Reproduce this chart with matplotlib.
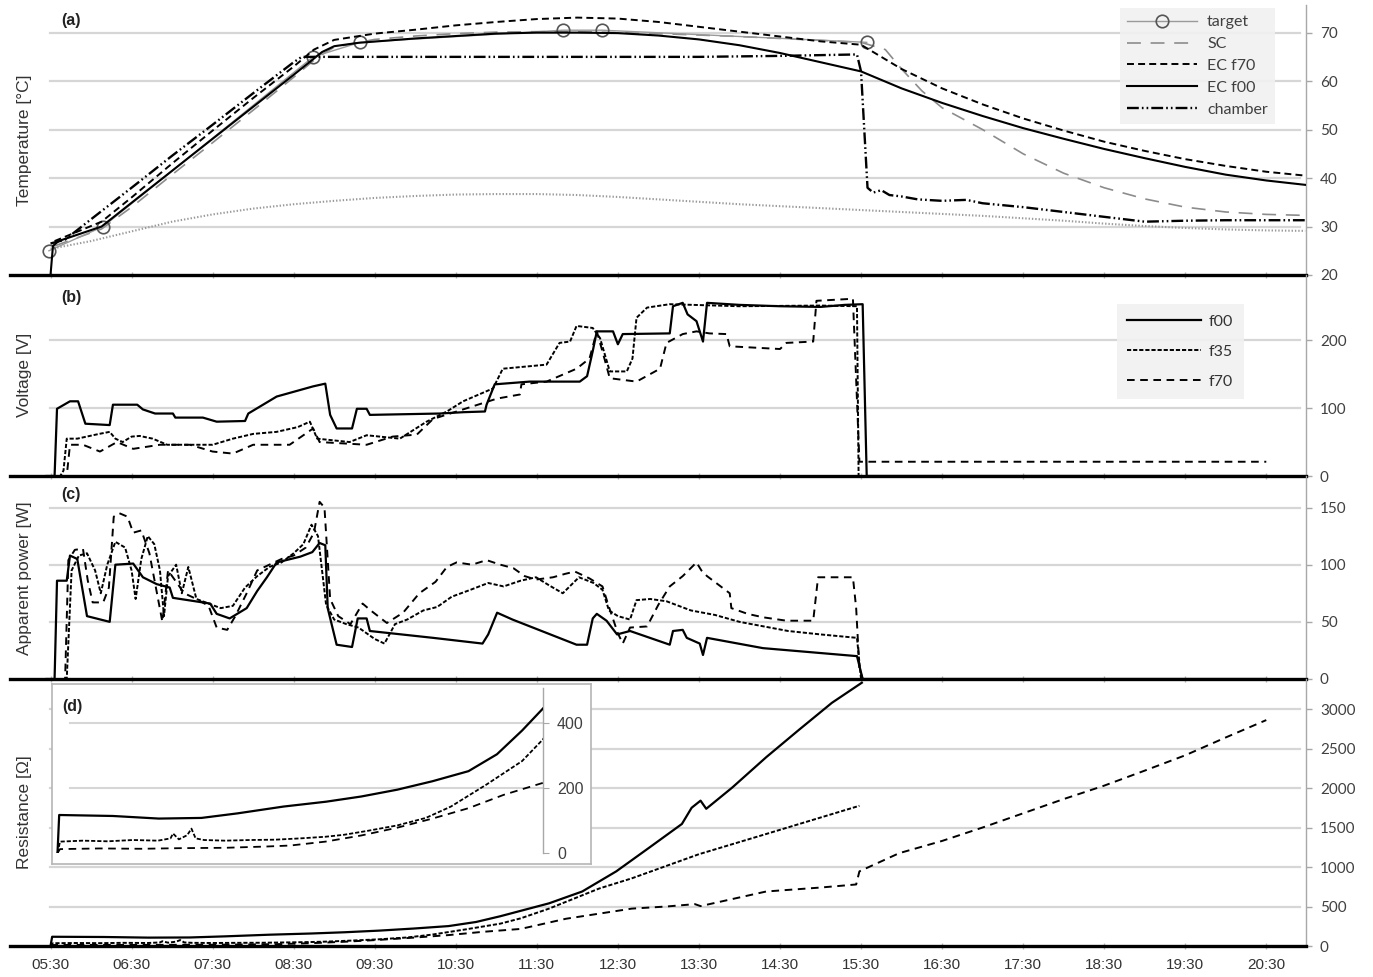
import matplotlib
matplotlib.use("Agg")
import matplotlib.pyplot as plt

plt.rcParams['font.family'] = ['Liberation Sans', 'DejaVu Sans']
plt.rcParams['lines.scale_dashes'] = False

# ---------------- data ----------------
hour_ticks = [5.5, 6.5, 7.5, 8.5, 9.5, 10.5, 11.5, 12.5, 13.5, 14.5, 15.5,
              16.5, 17.5, 18.5, 19.5, 20.5]
hour_labels = ["05:30", "06:30", "07:30", "08:30", "09:30", "10:30", "11:30",
               "12:30", "13:30", "14:30", "15:30", "16:30", "17:30", "18:30",
               "19:30", "20:30"]

# (a) temperatures [°C]
t_target = [5.48, 6.15, 8.74, 9.32, 11.82, 12.31, 15.57]
temp_target = [25, 30, 65, 68, 70.5, 70.5, 68]

t_ambient = [5.5, 6.0, 6.5, 7.0, 7.5, 8.0, 8.5, 9.0, 9.5, 10.0, 10.5, 11.0,
             11.5, 12.0, 12.5, 13.0, 13.5, 14.0, 14.5, 15.0, 15.5, 16.0, 16.5,
             17.0, 17.5, 18.0, 18.5, 19.0, 19.5, 20.0, 20.5, 20.98]
temp_ambient = [25.4, 27.0, 29.0, 31.0, 32.5, 33.7, 34.6, 35.3, 35.9, 36.3,
                36.6, 36.7, 36.7, 36.5, 36.1, 35.6, 35.1, 34.6, 34.2, 33.8,
                33.4, 33.0, 32.6, 32.2, 31.7, 31.2, 30.6, 30.1, 29.7, 29.4,
                29.2, 29.1]

t_sc = [5.55, 6.13, 6.50, 7.00, 7.50, 8.00, 8.50, 8.80, 9.00, 9.50, 10.0,
        10.5, 11.0, 11.5, 12.0, 12.5, 13.0, 13.5, 14.0, 14.5, 15.0, 15.5,
        15.8, 16.0, 16.25, 16.5, 17.0, 17.5, 18.0, 18.5, 19.0, 19.5, 20.0,
        20.5, 20.98]
temp_sc = [26, 29.5, 34, 40.7, 47.3, 54, 60.8, 65, 67, 68.6, 69.3, 69.8,
           70.1, 70.2, 70.2, 70.0, 69.8, 69.5, 69.2, 68.8, 68.4, 68.0, 66.5,
           62.5, 58, 54.5, 50.0, 45.0, 41.0, 38.0, 35.7, 34.0, 33.0, 32.5,
           32.3]

t_ec70 = [5.55, 6.13, 6.50, 7.00, 7.50, 8.00, 8.50, 8.75, 9.00, 9.50, 10.0,
          10.5, 11.0, 11.5, 12.0, 12.5, 13.0, 13.5, 14.0, 14.5, 15.0, 15.5,
          16.0, 16.5, 17.0, 17.5, 18.0, 18.5, 19.0, 19.5, 20.0, 20.5, 20.98]
temp_ec70 = [27, 31, 36, 43, 49.8, 56.5, 63, 66.5, 68.5, 69.8, 70.6, 71.5,
             72.2, 72.8, 73.1, 72.9, 72.2, 71.2, 70.2, 69.2, 68.2, 67.5, 62.5,
             58.5, 55.2, 52.3, 49.8, 47.5, 45.6, 43.9, 42.5, 41.3, 40.5]

t_ec00 = [5.50, 5.53, 5.60, 6.13, 6.50, 7.00, 7.50, 8.00, 8.50, 8.85, 9.00,
          9.30, 10.0, 10.5, 11.0, 11.5, 12.0, 12.5, 13.0, 13.5, 14.0, 14.5,
          15.0, 15.5, 16.0, 16.5, 17.0, 17.5, 18.0, 18.5, 19.0, 19.5, 20.0,
          20.5, 20.98]
temp_ec00 = [20, 26, 27, 30, 34.9, 41.5, 48.1, 54.7, 61.3, 66.0, 67.2, 67.9,
             68.8, 69.3, 69.8, 70.0, 70.0, 69.9, 69.4, 68.6, 67.4, 65.8, 63.9,
             62.0, 58.5, 55.5, 52.8, 50.3, 48.1, 46.0, 44.1, 42.3, 40.7, 39.5,
             38.6]

t_chamber = [5.50, 5.68, 6.00, 6.50, 7.00, 7.50, 8.00, 8.50, 8.60, 9.50,
             10.5, 11.5, 12.5, 13.5, 14.5, 15.45, 15.50, 15.58, 15.65, 15.75,
             15.85, 16.00, 16.20, 16.50, 16.80, 17.00, 17.50, 18.00, 18.50,
             19.00, 19.50, 20.00, 20.50, 20.98]
temp_chamber = [26.5, 27.3, 31.5, 38, 44.6, 51, 57.5, 63.9, 65, 65, 65, 65,
                65, 65, 65.2, 65.5, 62, 38, 37, 37.5, 36.5, 36.2, 35.6, 35.3,
                35.5, 34.8, 34.0, 33.0, 32.0, 31.0, 31.2, 31.3, 31.3, 31.3]

# (b) voltage [V]
t_v_f00 = [5.45, 5.55, 5.58, 5.74, 5.84, 5.93, 6.23, 6.27, 6.57, 6.64, 6.79,
           7.01, 7.04, 7.38, 7.55, 7.90, 7.94, 8.08, 8.29, 8.74, 8.89, 8.95,
           9.03, 9.22, 9.28, 9.40, 9.44, 10.3, 10.6, 10.86, 10.88, 10.98,
           11.41, 12.03, 12.12, 12.19, 12.24, 12.44, 12.50, 12.56, 13.14,
           13.18, 13.30, 13.36, 13.47, 13.55, 13.60, 14.0, 14.5, 15.0, 15.3,
           15.52, 15.57, 20.5]
v_f00 = [0, 0, 99, 110, 110, 77, 75, 105, 105, 98, 92, 92, 86, 86, 80, 81, 92,
         102, 117, 132, 136, 90, 70, 70, 99, 99, 90, 92, 94, 95, 105, 135, 139,
         139, 147, 184, 213, 213, 194, 209, 210, 250, 255, 238, 228, 198, 255,
         252, 250, 249, 252, 253, 0, 0]

t_v_f35 = [5.45, 5.62, 5.66, 5.70, 5.83, 6.10, 6.23, 6.30, 6.39, 6.50, 6.60,
           6.76, 6.94, 7.50, 7.75, 8.00, 8.29, 8.55, 8.70, 8.79, 9.19, 9.40,
           9.81, 10.14, 10.39, 10.59, 10.96, 11.08, 11.62, 11.78, 11.91, 11.99,
           12.19, 12.28, 12.40, 12.61, 12.68, 12.73, 12.86, 13.14, 14.0, 15.0,
           15.45, 15.47, 20.5]
v_f35 = [0, 0, 8, 55, 55, 62, 65, 55, 50, 58, 59, 55, 46, 46, 55, 62, 65, 72,
         80, 55, 50, 60, 55, 80, 95, 110, 129, 158, 164, 196, 198, 221, 218,
         203, 154, 154, 173, 233, 248, 253, 250, 251, 250, 0, 0]

t_v_f70 = [5.45, 5.70, 5.74, 5.90, 6.11, 6.32, 6.52, 6.85, 7.22, 7.50, 7.75,
           8.00, 8.45, 8.74, 8.82, 9.40, 9.72, 10.02, 10.22, 11.01, 11.29,
           11.31, 11.62, 11.99, 12.15, 12.24, 12.32, 12.40, 12.73, 13.02, 13.10,
           13.30, 13.47, 13.63, 13.84, 13.88, 14.50, 14.58, 14.91, 14.95, 15.40,
           15.48, 20.5]
v_f70 = [0, 0, 46, 46, 36, 50, 40, 46, 46, 36, 33, 46, 46, 70, 50, 46, 58, 61,
         84, 114, 120, 135, 139, 158, 173, 213, 179, 144, 139, 158, 196, 209,
         213, 210, 209, 191, 187, 196, 198, 258, 261, 21, 21]

# (c) apparent power [W]
t_p_f00 = [5.45, 5.55, 5.58, 5.70, 5.74, 5.83, 5.95, 6.23, 6.30, 6.52, 6.64,
           6.81, 6.97, 7.01, 7.47, 7.55, 7.71, 7.92, 8.05, 8.17, 8.29, 8.58,
           8.73, 8.82, 8.89, 8.92, 9.03, 9.22, 9.29, 9.40, 9.44, 10.22, 10.83,
           10.90, 11.01, 11.20, 11.99, 12.12, 12.19, 12.24, 12.36, 12.49,
           12.65, 13.14, 13.18, 13.30, 13.35, 13.51, 13.55, 13.60, 14.29,
           15.45, 15.52, 20.5]
p_f00 = [0, 0, 86, 86, 108, 105, 55, 50, 100, 101, 89, 83, 80, 71, 66, 57, 53,
         62, 77, 89, 102, 107, 111, 119, 117, 62, 30, 28, 53, 53, 42, 36, 31,
         39, 58, 52, 30, 30, 53, 57, 51, 39, 42, 30, 42, 43, 36, 31, 21, 36,
         27, 20, 0, 0]

t_p_f35 = [5.45, 5.70, 5.76, 5.85, 5.95, 6.05, 6.12, 6.20, 6.30, 6.42, 6.50,
           6.55, 6.62, 6.70, 6.78, 6.85, 6.90, 6.95, 7.05, 7.12, 7.20, 7.30,
           7.45, 7.60, 7.75, 7.90, 8.05, 8.20, 8.35, 8.50, 8.62, 8.72, 8.80,
           8.90, 9.00, 9.15, 9.30, 9.50, 9.62, 9.75, 9.90, 10.10, 10.27, 10.45,
           10.68, 10.90, 11.09, 11.30, 11.49, 11.65, 11.82, 12.02, 12.20,
           12.31, 12.39, 12.50, 12.65, 12.73, 12.90, 13.10, 13.40, 13.70,
           14.00, 14.30, 14.60, 15.00, 15.30, 15.45, 15.50, 20.5]
p_f35 = [0, 0, 95, 108, 110, 95, 75, 100, 120, 115, 95, 70, 105, 125, 118, 95,
         55, 90, 100, 75, 98, 70, 66, 62, 64, 80, 90, 98, 102, 110, 118, 135,
         125, 65, 52, 48, 45, 35, 31, 48, 52, 60, 63, 72, 78, 84, 81, 86, 89,
         82, 75, 89, 84, 78, 60, 55, 52, 69, 70, 68, 60, 56, 50, 46, 42, 39,
         37, 36, 0, 0]

t_p_f70 = [5.45, 5.68, 5.72, 5.80, 5.90, 5.96, 6.02, 6.15, 6.22, 6.28, 6.35,
           6.45, 6.52, 6.62, 6.72, 6.80, 6.88, 6.95, 7.05, 7.15, 7.30, 7.45,
           7.55, 7.68, 7.78, 7.92, 8.05, 8.20, 8.35, 8.50, 8.65, 8.75, 8.82,
           8.88, 8.95, 9.05, 9.20, 9.35, 9.45, 9.65, 9.85, 10.05, 10.25, 10.39,
           10.51, 10.70, 10.88, 11.05, 11.21, 11.35, 11.49, 11.70, 11.85,
           11.97, 12.15, 12.31, 12.39, 12.50, 12.56, 12.65, 12.86, 13.00,
           13.14, 13.30, 13.47, 13.53, 13.60, 13.75, 13.88, 13.90, 14.10,
           14.29, 14.58, 14.91, 14.97, 15.40, 15.44, 15.48, 15.52, 20.5]
p_f70 = [0, 0, 104, 113, 114, 86, 67, 67, 80, 142, 145, 142, 128, 130, 110,
         80, 50, 95, 85, 75, 70, 64, 45, 43, 55, 75, 95, 100, 105, 108, 115,
         128, 155, 150, 70, 55, 48, 66, 60, 49, 58, 75, 85, 98, 102, 100, 104,
         100, 97, 90, 87, 89, 92, 94, 88, 81, 63, 40, 31, 45, 46, 65, 81, 90,
         102, 95, 90, 82, 75, 62, 57, 54, 51, 51, 89, 89, 62, 9, 0, 0]

# (d) resistance [Ohm]
t_r_f00 = [5.50, 5.52, 6.16, 6.71, 7.22, 7.65, 8.20, 8.71, 9.13, 9.56, 9.98,
           10.41, 10.75, 11.05, 11.30, 11.65, 12.06, 12.48, 12.88, 13.29,
           13.41, 13.52, 13.59, 13.91, 14.33, 14.73, 15.14, 15.51]
r_f00 = [0, 117, 114, 106, 108, 122, 143, 158, 174, 195, 221, 252, 304, 377,
         445, 540, 690, 945, 1240, 1545, 1750, 1840, 1737, 2005, 2390, 2733,
         3078, 3333]

t_r_f35 = [5.50, 5.53, 5.80, 6.10, 6.40, 6.70, 6.85, 6.88, 6.95, 7.05, 7.10,
           7.15, 7.25, 7.50, 7.80, 8.10, 8.40, 8.70, 8.92, 9.20, 9.56, 9.90,
           10.20, 10.62, 11.05, 11.30, 11.65, 12.27, 12.67, 13.50, 14.33, 15.48]
r_f35 = [0, 35, 38, 36, 40, 38, 45, 60, 42, 55, 75, 45, 40, 38, 40, 41, 45, 50,
         56, 68, 85, 108, 143, 210, 283, 350, 473, 728, 856, 1162, 1418, 1775]

t_r_f70 = [5.50, 5.53, 6.00, 6.50, 7.00, 7.50, 8.00, 8.28, 8.70, 9.13, 9.56,
           9.98, 10.41, 10.83, 11.30, 11.86, 12.67, 13.10, 13.45, 13.52, 14.33,
           15.00, 15.44, 15.48, 15.97, 16.50, 17.00, 17.50, 18.00, 18.50,
           19.00, 19.50, 20.00, 20.50]
r_f70 = [0, 12, 14, 13, 15, 16, 20, 23, 35, 54, 78, 106, 138, 179, 216, 345,
         473, 500, 530, 505, 690, 740, 779, 945, 1175, 1330, 1500, 1680, 1860,
         2030, 2220, 2414, 2640, 2860]

# ---------------- layout ----------------
W, H = 1373, 977
fig = plt.figure(figsize=(W / 100, H / 100), dpi=100)
fig.patch.set_facecolor('white')


def rect(x0, y0, x1, y1):
    return [x0 / W, 1 - y1 / H, (x1 - x0) / W, (y1 - y0) / H]


GRID = '#d6d6d6'
AXIS_GRAY = '#a8a8a8'
TXT = '#333333'
LEGEND_FONT = {'family': ['Lato', 'DejaVu Sans'], 'size': 11.5}

DASH_F35 = (0, (3.0, 1.4))
DASH_F70 = (0, (5.5, 4.0))


def style_panel(ax, ylim, yticks):
    ax.set_xlim(5.0, 20.99)
    ax.set_ylim(*ylim)
    ax.patch.set_alpha(0)
    ax.spines['top'].set_visible(False)
    ax.spines['left'].set_visible(False)
    ax.spines['right'].set_color(AXIS_GRAY)
    ax.spines['right'].set_linewidth(1.0)
    ax.spines['bottom'].set_color('black')
    ax.spines['bottom'].set_linewidth(2.4)
    ax.yaxis.tick_right()
    ax.set_yticks(yticks)
    ax.tick_params(axis='y', direction='out', length=4, width=1,
                   color=AXIS_GRAY, labelsize=11, labelcolor='#404040', pad=6)
    for lbl in ax.get_yticklabels():
        lbl.set_fontfamily(['Lato', 'DejaVu Sans'])
    ax.set_xticks(hour_ticks)
    ax.tick_params(axis='x', direction='inout', length=5, width=1,
                   color='#b8b8b8', labelbottom=False)
    for g in yticks[1:]:
        ax.axhline(g, xmin=0.031, xmax=0.995, color=GRID, lw=1.6, zorder=0)


ax_a = fig.add_axes(rect(10, 5, 1306, 275))
ax_b = fig.add_axes(rect(10, 275, 1306, 476))
ax_c = fig.add_axes(rect(10, 476, 1306, 679))
ax_d = fig.add_axes(rect(10, 679, 1306, 946))

style_panel(ax_a, (20, 75.7), [20, 30, 40, 50, 60, 70])
style_panel(ax_b, (0, 296), [0, 100, 200])
style_panel(ax_c, (0, 177.6), [0, 50, 100, 150])
style_panel(ax_d, (0, 3380), [0, 500, 1000, 1500, 2000, 2500, 3000])

ax_d.tick_params(axis='x', labelbottom=True, labelsize=11, labelcolor=TXT,
                 pad=6)
ax_d.set_xticklabels(hour_labels)

# ---------------- (a) temperature ----------------
ax_a.plot(t_ambient, temp_ambient, color='#9a9a9a', lw=1.5,
          linestyle=(0, (1.0, 1.4)), zorder=2)
l_sc, = ax_a.plot(t_sc, temp_sc, color='#8c8c8c', lw=1.2,
                  linestyle=(0, (10, 7)), label='SC', zorder=3)
l_tg, = ax_a.plot(t_target, temp_target, color='#9a9a9a', lw=1.0,
                  marker='o', markersize=9, markerfacecolor='none',
                  markeredgecolor='#555555', markeredgewidth=1.2,
                  label='target', zorder=4)
l_ch, = ax_a.plot(t_chamber, temp_chamber, color='black', lw=1.7,
                  linestyle=(0, (8.5, 2.2, 1.2, 2.2, 1.2, 2.2)),
                  label='chamber', zorder=4)
l_e70, = ax_a.plot(t_ec70, temp_ec70, color='black', lw=1.4,
                   linestyle=(0, (5, 3)), label='EC f70', zorder=5)
l_e00, = ax_a.plot(t_ec00, temp_ec00, color='black', lw=1.5,
                   label='EC f00', zorder=6)

leg_a = ax_a.legend([l_tg, l_sc, l_e70, l_e00, l_ch],
                    ['target', 'SC', 'EC f70', 'EC f00', 'chamber'],
                    loc='upper left', bbox_to_anchor=(1120 / W, 1 - 8 / H),
                    bbox_transform=fig.transFigure, numpoints=1,
                    handlelength=4.4, handletextpad=0.6, labelspacing=0.48,
                    borderpad=0.45, borderaxespad=0, frameon=True,
                    fancybox=False, facecolor='#f1f1f1', edgecolor='none',
                    framealpha=0.9, prop=LEGEND_FONT)
for txt in leg_a.get_texts():
    txt.set_color('#404040')

# ---------------- (b) voltage ----------------
l_vf00, = ax_b.plot(t_v_f00, v_f00, color='black', lw=1.6, label='f00',
                    zorder=5)
l_vf35, = ax_b.plot(t_v_f35, v_f35, color='black', lw=1.4,
                    linestyle=DASH_F35, label='f35', zorder=4)
l_vf70, = ax_b.plot(t_v_f70, v_f70, color='black', lw=1.4,
                    linestyle=DASH_F70, label='f70', zorder=4)
leg_b = ax_b.legend(loc='upper left', bbox_to_anchor=(1117 / W, 1 - 304 / H),
                    bbox_transform=fig.transFigure, handlelength=4.6,
                    handletextpad=0.5, labelspacing=1.0, borderpad=0.65,
                    borderaxespad=0, frameon=True, fancybox=False,
                    facecolor='#f1f1f1', edgecolor='none', framealpha=0.9,
                    prop=LEGEND_FONT)
for txt in leg_b.get_texts():
    txt.set_color('#333333')

# ---------------- (c) apparent power ----------------
ax_c.plot(t_p_f00, p_f00, color='black', lw=1.6, zorder=5)
ax_c.plot(t_p_f35, p_f35, color='black', lw=1.4, linestyle=DASH_F35, zorder=4)
ax_c.plot(t_p_f70, p_f70, color='black', lw=1.4, linestyle=DASH_F70, zorder=4)

# ---------------- (d) resistance ----------------
ax_d.plot(t_r_f00, r_f00, color='black', lw=1.6, zorder=5)
ax_d.plot(t_r_f35, r_f35, color='black', lw=1.4, linestyle=DASH_F35, zorder=4)
ax_d.plot(t_r_f70, r_f70, color='black', lw=1.4, linestyle=DASH_F70, zorder=4)

# inset: early part of the resistance curves
box = fig.add_axes(rect(52, 684, 591, 864))
box.set_zorder(10)
box.set_xticks([])
box.set_yticks([])
box.set_facecolor('white')
for s in box.spines.values():
    s.set_color('#b5b5b5')
    s.set_linewidth(1.2)

ins = fig.add_axes(rect(55, 688, 543, 853))
ins.set_zorder(11)
ins.patch.set_alpha(0)
ins.set_xlim(5.47, 11.3)
ins.set_ylim(0, 508)
for s in ('top', 'left', 'bottom'):
    ins.spines[s].set_visible(False)
ins.spines['right'].set_color(AXIS_GRAY)
ins.spines['right'].set_linewidth(1.0)
ins.yaxis.tick_right()
ins.set_yticks([0, 200, 400])
ins.set_xticks([])
ins.tick_params(axis='y', direction='out', length=4, color=AXIS_GRAY,
                labelsize=11.5, labelcolor='#404040', pad=6)
for g in (200, 400):
    ins.axhline(g, xmin=0.03, xmax=1.0, color=GRID, lw=1.5, zorder=0)
ins.plot(t_r_f00, r_f00, color='black', lw=1.6, zorder=5)
ins.plot(t_r_f35, r_f35, color='black', lw=1.3, linestyle=DASH_F35, zorder=4)
ins.plot(t_r_f70, r_f70, color='black', lw=1.3, linestyle=DASH_F70, zorder=4)

# ---------------- labels ----------------
for x, y, s in [(61, 20, '(a)'), (61, 297, '(b)'), (61, 495, '(c)')]:
    fig.text(x / W, 1 - y / H, s, fontsize=11.5, fontweight='bold',
             color='#222222', ha='left', va='center')
fig.text(62 / W, 1 - 706 / H, '(d)', fontsize=11.5, fontweight='bold',
         color='#222222', ha='left', va='center', zorder=20)

for y, s in [(140, 'Temperature [°C]'), (375, 'Voltage [V]'),
             (578, 'Apparent power [W]'), (812, 'Resistance [Ω]')]:
    fig.text(25 / W, 1 - y / H, s, rotation=90, fontsize=12.5, color=TXT,
             ha='center', va='center')

fig.savefig('out.png', dpi=100, facecolor='white')
